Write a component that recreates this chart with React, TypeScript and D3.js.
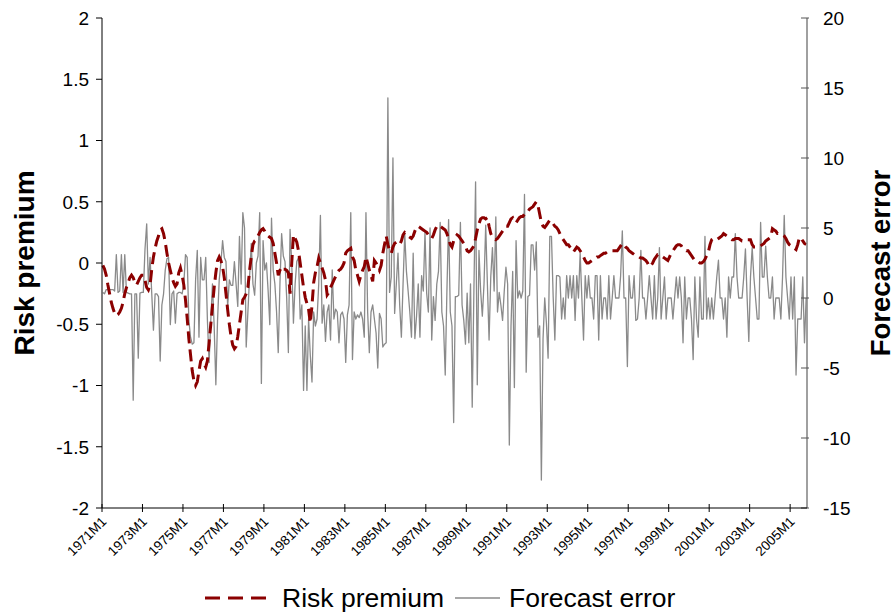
import React from "react";
import * as d3 from "d3";

const startYear = 1971;

const riskPremium: number[] = [
  -0.02,-0.05,-0.1,-0.18,-0.25,-0.32,-0.37,-0.41,-0.43,-0.42,-0.4,-0.37,
  -0.32,-0.25,-0.2,-0.16,-0.12,-0.1,-0.12,-0.16,-0.18,-0.15,-0.12,-0.1,
  -0.1,-0.14,-0.2,-0.22,-0.18,-0.05,0.05,0.12,0.18,0.22,0.27,0.28,
  0.24,0.17,0.08,0.0,-0.06,-0.12,-0.16,-0.19,-0.17,-0.08,-0.04,-0.1,
  -0.18,-0.3,-0.45,-0.62,-0.75,-0.88,-0.96,-1.0,-0.97,-0.88,-0.8,-0.78,
  -0.82,-0.85,-0.8,-0.65,-0.5,-0.35,-0.2,-0.08,0.02,0.05,0.02,-0.03,
  -0.12,-0.25,-0.38,-0.5,-0.6,-0.67,-0.7,-0.68,-0.6,-0.5,-0.4,-0.3,
  -0.28,-0.25,-0.2,-0.06,0.05,0.15,0.18,0.19,0.22,0.25,0.27,0.28,
  0.26,0.23,0.22,0.21,0.2,0.16,0.08,0.0,-0.1,-0.06,-0.03,-0.05,
  -0.05,-0.06,-0.08,-0.25,0.0,0.23,0.2,0.17,0.1,0.0,-0.1,-0.2,
  -0.28,-0.33,-0.38,-0.49,-0.35,-0.16,-0.08,-0.03,0.04,0.0,-0.04,-0.08,
  -0.14,-0.26,-0.24,-0.2,-0.17,-0.14,-0.11,-0.08,-0.06,-0.05,-0.03,0.0,
  0.08,0.1,0.11,0.12,0.05,0.02,-0.06,-0.1,-0.15,-0.1,-0.06,-0.03,
  0.05,0.0,-0.06,-0.1,-0.15,0.02,0.0,-0.03,-0.06,-0.02,0.08,0.15,
  0.22,0.15,0.1,0.08,0.13,0.16,0.17,0.16,0.15,0.18,0.23,0.25,
  0.24,0.22,0.21,0.2,0.22,0.26,0.29,0.3,0.29,0.28,0.27,0.26,
  0.25,0.23,0.21,0.2,0.23,0.27,0.3,0.31,0.3,0.29,0.28,0.27,
  0.24,0.2,0.15,0.13,0.18,0.21,0.23,0.22,0.2,0.18,0.16,0.14,
  0.1,0.09,0.1,0.12,0.14,0.2,0.27,0.32,0.36,0.37,0.37,0.36,
  0.37,0.3,0.24,0.21,0.2,0.19,0.2,0.22,0.24,0.26,0.28,0.3,
  0.3,0.33,0.36,0.37,0.34,0.33,0.35,0.37,0.38,0.38,0.4,0.42,
  0.42,0.44,0.45,0.46,0.48,0.5,0.47,0.4,0.33,0.3,0.29,0.31,
  0.33,0.35,0.34,0.32,0.3,0.29,0.27,0.24,0.21,0.19,0.17,0.15,
  0.15,0.13,0.11,0.09,0.11,0.13,0.12,0.1,0.08,0.05,0.02,0.0,
  0.0,0.01,0.02,0.03,0.04,0.05,0.05,0.06,0.07,0.08,0.08,0.09,
  0.09,0.1,0.1,0.1,0.1,0.1,0.12,0.14,0.16,0.15,0.13,0.12,
  0.1,0.09,0.08,0.07,0.06,0.05,0.05,0.04,0.04,0.03,0.02,0.0,
  -0.03,-0.02,0.0,0.03,0.05,0.07,0.07,0.06,0.05,0.04,0.03,0.02,
  0.05,0.08,0.1,0.12,0.14,0.15,0.15,0.14,0.12,0.11,0.1,0.1,
  0.08,0.06,0.04,0.02,0.01,0.01,0.0,0.0,0.01,0.03,0.06,0.09,
  0.15,0.19,0.2,0.2,0.19,0.2,0.21,0.22,0.24,0.23,0.22,0.21,
  0.2,0.19,0.19,0.2,0.2,0.2,0.19,0.18,0.18,0.18,0.19,0.19,
  0.19,0.15,0.13,0.13,0.13,0.13,0.14,0.15,0.16,0.18,0.19,0.2,
  0.21,0.28,0.27,0.26,0.24,0.24,0.23,0.23,0.22,0.2,0.17,0.15,
  0.14,0.12,0.12,0.11,0.15,0.21,0.2,0.18,0.16,0.15,
];

const forecastError: number[] = [
  0.4,0.3,0.6,0.6,0.6,0.6,0.6,0.5,3.1,0.4,0.5,3.1,
  0.4,3.1,0.4,0.35,0.3,0.3,-7.3,0.3,0.3,-4.3,0.35,0.4,
  0.4,3.5,5.3,1.0,2.9,0.3,-2.3,0.3,0.3,0.1,-4.5,-0.5,
  0.3,2.0,2.8,2.9,-1.9,0.3,0.5,-1.8,0.3,0.4,0.4,0.3,
  1.0,3.1,2.9,-1.6,-2.8,-3.3,-3.2,1.3,3.4,-2.8,2.9,1.3,
  1.3,2.9,-1.6,-4.6,-1.6,1.0,-2.0,-6.2,-1.6,1.3,2.5,4.1,
  2.9,2.6,-0.6,1.3,0.9,0.9,2.6,1.0,-0.6,4.4,1.0,6.1,
  5.0,-3.5,-1.0,1.5,3.9,1.0,0.2,2.5,3.0,6.1,-6.1,4.1,
  2.0,2.5,0.5,-1.9,5.7,2.0,1.0,-1.0,-3.9,1.0,4.6,3.0,
  2.6,0.0,-3.9,4.9,2.5,-1.8,1.0,2.6,2.9,-1.5,-0.5,-6.6,
  -2.0,-6.6,-1.5,-4.1,-6.0,-1.0,-2.0,-1.5,1.0,5.9,-1.8,-0.5,
  -3.1,-1.0,-0.5,-3.0,2.0,-1.5,-0.8,-1.0,-3.2,-1.2,-1.0,-1.5,
  -4.6,-1.2,-0.5,6.1,-4.4,-1.0,-1.5,-1.2,-1.4,-1.0,-1.5,-2.8,
  6.1,-1.0,-3.9,-1.0,-0.5,-1.5,-2.5,-5.0,-1.1,-1.5,-3.5,-3.3,
  -3.2,14.3,0.4,1.5,10.0,-1.1,1.0,3.2,-0.5,-2.8,1.0,4.6,
  1.9,0.5,-1.0,-2.8,3.2,-2.9,-1.3,1.0,-2.8,1.6,0.5,4.7,
  0.35,-1.0,5.0,-3.0,0.1,-1.6,1.0,1.9,5.4,-1.0,-2.0,-5.5,
  0.5,5.6,-1.0,-2.0,-8.9,0.1,0.1,0.2,5.4,-0.5,-1.6,-3.3,
  0.35,-3.2,1.0,-7.8,0.5,8.3,-6.2,3.4,0.5,-1.3,1.0,5.2,
  1.0,-3.0,1.5,3.6,0.5,5.8,-1.0,0.4,-0.5,-1.6,0.5,2.2,
  1.0,-10.5,-2.0,1.9,-6.4,4.1,0.0,0.5,0.0,0.5,7.4,-5.3,
  0.1,0.2,3.8,3.8,2.0,4.0,-2.8,-2.0,-13.0,-2.9,0.0,-1.8,
  -4.3,4.4,4.4,0.1,-3.0,1.6,1.6,1.5,-1.5,0.0,-1.5,1.6,
  0.0,1.6,0.0,1.6,-1.6,1.6,0.0,3.2,0.0,-3.0,1.6,0.0,
  1.6,0.0,0.0,-1.5,1.6,1.6,-3.0,1.6,-1.5,0.0,0.0,-1.5,
  1.6,-1.5,0.0,1.6,0.0,0.0,0.0,1.6,4.8,0.0,0.0,-4.9,
  1.6,0.0,0.0,1.6,-1.6,-1.5,0.0,3.4,0.0,0.0,-1.5,0.0,
  1.6,0.0,-1.5,1.6,-1.5,0.0,3.6,-1.5,0.0,1.5,-1.5,0.0,
  0.0,0.0,-1.5,0.0,1.5,0.0,1.5,0.0,-3.2,1.5,-1.5,0.0,
  0.0,-1.5,-4.4,1.5,-1.5,-2.8,1.5,-1.5,-1.5,4.4,-1.5,0.0,
  -1.5,0.0,-1.5,0.0,1.5,2.7,0.0,0.0,-1.5,0.0,-2.8,1.5,
  0.0,1.5,1.5,4.6,1.5,0.0,0.0,0.0,1.5,3.5,0.0,-3.1,
  1.5,3.6,1.5,0.0,-1.5,-1.5,5.4,1.5,1.5,3.7,1.5,0.0,
  0.0,1.5,-1.5,0.0,0.0,0.0,-1.5,1.5,5.9,1.5,0.0,-1.5,
  1.5,-1.5,1.5,-5.5,-1.5,-1.5,-1.5,1.5,-3.2,0.0,
];

const N = Math.max(riskPremium.length, forecastError.length);
const categories: string[] = Array.from({ length: N }, (_, i) =>
  `${startYear + Math.floor(i / 12)}M${(i % 12) + 1}`
);
const tickEvery = 24;
const tickIndices: number[] = d3.range(0, N, tickEvery);
const leftTicks: number[] = [-2, -1.5, -1, -0.5, 0, 0.5, 1, 1.5, 2];
const rightTicks: number[] = [-15, -10, -5, 0, 5, 10, 15, 20];

const FONT = "'Liberation Sans', Arial, sans-serif";
const RED = "#8b0000";
const GRAY = "#8a8a8a";

export default function App() {
  const x0 = 102, x1 = 807, yTop = 18, yBot = 508;
  const xs = d3.scaleLinear().domain([0, N]).range([x0, x1]);
  const yL = d3.scaleLinear().domain([-2, 2]).range([yBot, yTop]);
  const yR = d3.scaleLinear().domain([-15, 20]).range([yBot, yTop]);

  const rpLine = d3.line<number>().x((_, i) => xs(i + 0.5)).y((d) => yL(d));
  const feLine = d3.line<number>().x((_, i) => xs(i + 0.5)).y((d) => yR(d));

  return (
    <svg width={896} height={615} style={{ position: "absolute", left: 0, top: 0, background: "#fff" }} fontFamily={FONT}>
      <rect x={0} y={0} width={896} height={615} fill="#fff" />
      {/* series */}
      <path d={feLine(forecastError) || ""} fill="none" stroke={GRAY} strokeWidth={1.3} strokeLinejoin="round" />
      <path d={rpLine(riskPremium) || ""} fill="none" stroke={RED} strokeWidth={3} strokeDasharray="12,6" />

      {/* left axis */}
      <line x1={x0} y1={yTop} x2={x0} y2={yBot} stroke="#000" strokeWidth={1} />
      {leftTicks.map((t) => (
        <g key={"l" + t}>
          <line x1={x0 - 6} x2={x0} y1={yL(t)} y2={yL(t)} stroke="#000" />
          <text x={89} y={yL(t)} dy="0.36em" textAnchor="end" fontSize={19} fill="#000">
            {String(t)}
          </text>
        </g>
      ))}

      {/* right axis */}
      <line x1={x1} y1={yTop} x2={x1} y2={yBot} stroke="#808080" strokeWidth={1.5} />
      {rightTicks.map((t) => (
        <g key={"r" + t}>
          <line x1={x1 - 6} x2={x1 + 2} y1={yR(t)} y2={yR(t)} stroke="#555" />
          <text x={823} y={yR(t)} dy="0.36em" textAnchor="start" fontSize={19} fill="#000">
            {String(t)}
          </text>
        </g>
      ))}

      {/* bottom axis */}
      <line x1={x0} y1={yBot} x2={x1} y2={yBot} stroke="#000" strokeWidth={1} />
      {tickIndices.map((i) => (
        <g key={"b" + i}>
          <line x1={xs(i)} x2={xs(i)} y1={yBot - 4} y2={yBot + 4} stroke="#000" />
          <text
            transform={`translate(${xs(i) + 2},${yBot + 11}) rotate(-45)`}
            textAnchor="end"
            dy="0.35em"
            fontSize={13.5}
            fill="#000"
          >
            {categories[i]}
          </text>
        </g>
      ))}

      {/* axis titles */}
      <text transform={`translate(34,263) rotate(-90)`} textAnchor="middle" fontSize={28} fontWeight="bold" fill="#000">
        Risk premium
      </text>
      <text transform={`translate(890,263) rotate(-90)`} textAnchor="middle" fontSize={27.5} fontWeight="bold" fill="#000">
        Forecast error
      </text>

      {/* legend */}
      <line x1={205} x2={272} y1={598} y2={598} stroke={RED} strokeWidth={3} strokeDasharray="15,8" />
      <text x={282} y={607} fontSize={26.5} fill="#000">Risk premium</text>
      <line x1={455} x2={500} y1={598} y2={598} stroke={GRAY} strokeWidth={1.3} />
      <text x={509} y={607} fontSize={26.5} fill="#000">Forecast error</text>
    </svg>
  );
}
